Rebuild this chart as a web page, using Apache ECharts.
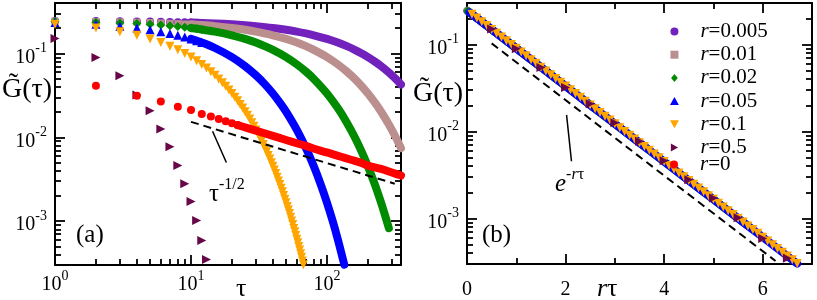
<!DOCTYPE html>
<html><head><meta charset="utf-8">
<script src="https://cdn.jsdelivr.net/npm/echarts@6/dist/echarts.min.js"></script>
<style>html,body{margin:0;padding:0;background:#fff}#c{width:817px;height:300px}</style>
</head><body><div id="c"></div>
<script>
// ---------------- data ----------------
const seriesNames = ['r=0.005','r=0.01','r=0.02','r=0.05','r=0.1','r=0.5','r=0'];
const rValues = [0.005, 0.01, 0.02, 0.05, 0.1, 0.5, 0];

const tauSparse = [1,2,3,4,5,6,7,8,9,10,11,12];
const tauBandLong = [10,12,15,20,25,30,40,50,60,70,80,100,120,140,160,180,200,225,250,285,320,350];
const tauBandGreen = [10,12,15,20,25,30,40,50,60,70,80,100,120,140,160,180,200,225,250,270,285];
const tauBandBlue = [10,12,15,20,25,30,35,40,45,50,60,70,80,90,100,110,120,134];

const gR0005Sparse = [0.2448,0.2436,0.2423,0.2411,0.2399,0.2387,0.2375,0.2364,0.2352,0.2340,0.2328,0.2317];
const gR0005Band = [0.2340,0.2317,0.2282,0.2226,0.2171,0.2117,0.2014,0.1916,0.1822,0.1734,0.1649,0.1492,0.1350,0.1222,0.1105,0.1000,0.0905,0.0799,0.0705,0.0592,0.0497,0.0427];

const gR001Sparse = [0.2436,0.2411,0.2387,0.2364,0.2340,0.2317,0.2294,0.2271,0.2248,0.2226,0.2204,0.2182];
const gR001Band = [0.2226,0.2182,0.2117,0.2014,0.1916,0.1822,0.1649,0.1492,0.1350,0.1222,0.1105,0.0905,0.0741,0.0607,0.0497,0.0407,0.0333,0.0259,0.0202,0.01423,0.01003,0.00743];

const gR002Sparse = [0.2411,0.2364,0.2317,0.2271,0.2226,0.2182,0.2139,0.2096,0.2055,0.2014,0.1974,0.1935];
const gR002Band = [0.2014,0.1935,0.1822,0.1649,0.1492,0.1350,0.1105,0.0905,0.0741,0.0607,0.0497,0.0333,0.0223,0.01495,0.01003,0.00672,0.00450,0.00273,0.00166,0.00111,0.000824];

const gR005Sparse = [0.2340,0.2226,0.2117,0.2014,0.1916,0.1822,0.1734,0.1649,0.1568,0.1492,0.1419,0.1350];
const gR005Band = [0.1492,0.1350,0.1162,0.0905,0.0705,0.0549,0.0428,0.0333,0.0259,0.0202,0.01225,0.00743,0.00451,0.00273,0.00166,0.001006,0.00061,0.000303];

const tauR01 = [1,2,3,4,5,6,7,8,9,10,11,12,13,14,15,16,17,18,19,20,21,22,23,24,25,26,27,28,29,30,31,32,33,34,35,36,37,38,39,40,41,42,43,44,45,46,47,48,49,50,51,52,53,54,55,56,57,58,59,60,61,62,63,64,65,66,67];
const gR01 = [0.2226,0.2014,0.1822,0.1649,0.1492,0.1350,0.1222,0.1105,0.1000,0.0905,
  0.0819,0.0741,0.0670,0.0607,0.0549,0.0497,0.0449,0.0407,0.0368,0.0333,
  0.0301,0.0273,0.0247,0.0223,0.0202,0.0183,0.0165,0.01496,0.01354,0.01225,
  0.01108,0.01003,0.00907,0.00821,0.00743,0.00672,0.00608,0.00550,0.00498,0.00451,
  0.00408,0.00369,0.00334,0.00302,0.00273,0.00247,0.00224,0.00203,0.00183,0.00166,
  0.00150,0.00136,0.00123,0.00111,0.001006,0.00091,0.00082,0.000746,0.000675,0.00061,
  0.000552,0.000500,0.000452,0.000409,0.00037,0.000335,0.000303];

const tauR05 = [1,2,3,4,5,6,7,8,9,10,11,12,13];
const gR05 = [0.151,0.0896,0.0543,0.0320,0.0208,0.0126,0.00774,0.00460,0.00279,0.00172,0.00102,0.000589,0.00035];

const tauR0Sparse = [2,4,6,8,10,12,14,16,18,20,22];
const gR0Sparse = [0.0412,0.0313,0.0268,0.0232,0.0212,0.0190,0.0177,0.0165,0.0155,0.0147,0.0140];
const tauR0Band = [22,26,30,40,50,60,70,85,100,125,150,175,200,250,300,350];
const gR0Band = [0.0140,0.0129,0.0120,0.0104,0.0093,0.0085,0.0079,0.0071,0.0066,0.0059,0.0054,0.0050,0.0046,0.0042,0.0038,0.0035];

// guide lines
const tauGuide = [10, 315];
const gGuide = [0.0153, 0.0028];          // tau^(-1/2)
const rtGuide = [0.5, 6.26];
const gExpGuide = [0.103, 0.000325];      // e^(-r tau)
const arrowA = [[18.2, 0.0050], [14.4, 0.0118]];
const arrowB = [[2.12, 0.00455], [2.02, 0.0155]];

// ticks
const logXMajor = [1, 10, 100];
const logXMinor = [2,3,4,5,6,7,8,9,20,30,40,50,60,70,80,90,200,300];
const logYMajor = [0.001, 0.01, 0.1];
const logYMinor = [0.0003,0.0004,0.0005,0.0006,0.0007,0.0008,0.0009,0.002,0.003,0.004,0.005,0.006,0.007,0.008,0.009,0.02,0.03,0.04,0.05,0.06,0.07,0.08,0.09,0.2,0.3,0.4];
const linXMajor = [0, 2, 4, 6];
const linXMinor = [1, 3, 5, 7];

// ---------------- style ----------------
const FONT = '"Liberation Serif", "Times New Roman", serif';
const colors = ['#7221bc','#bc8f8f','#008b00','#0000ff','#ffa500','#670748','#ff0000'];
const CIRCLE = 'path://M5,0 A5,5 0 1,1 4.99,0 Z';
const SQUARE = 'path://M0,0 L10,0 L10,10 L0,10 Z';
const DIAMOND = 'path://M5,0 L10,6 L5,12 L0,6 Z';
const TRI_UP = 'path://M5,0 L10,9 L0,9 Z';
const TRI_DOWN = 'path://M0,0 L10,0 L5,9 Z';
const TRI_RIGHT = 'path://M0,0 L9,5 L0,10 Z';
const symbols = ['circle', SQUARE, DIAMOND, TRI_UP, TRI_DOWN, TRI_RIGHT, 'circle'];
const legendIcons = [CIRCLE, SQUARE, DIAMOND, TRI_UP, TRI_DOWN, TRI_RIGHT, 'circle'];
const symSizes = [8, 7, 9, 9, 9, 9, 8];

const supRich = {
  b: {fontSize: 20, fontFamily: FONT, color: '#000', lineHeight: 20, padding: [8,0,0,0]},
  s: {fontSize: 14, fontFamily: FONT, color: '#000', lineHeight: 13, padding: [0,0,10,0]}
};
function powLabel(v) { return '{b|10}{s|' + Math.round(Math.log10(v)) + '}'; }

function axisSet(gridIndex, dim, type, min, max, majors, minors, labelValues, labelOpts) {
  const pos = dim === 'x' ? ['bottom','top'] : ['left','right'];
  const out = [];
  pos.forEach(function (p, k) {
    [true, false].forEach(function (isMajor) {
      const ax = {
        type: type, gridIndex: gridIndex, position: p, min: min, max: max,
        splitLine: {show: false}, axisPointer: {show: false},
        axisLine: {show: isMajor, onZero: false, lineStyle: {color: '#000', width: 2}},
        axisTick: {show: true, inside: true, length: isMajor ? 10 : 6,
                   customValues: isMajor ? majors : minors,
                   lineStyle: {color: '#000', width: 1.8}},
        axisLabel: {show: false}
      };
      if (type === 'log') ax.logBase = 10;
      if (isMajor && k === 0 && labelValues) {
        ax.axisLabel = Object.assign({show: true, customValues: labelValues, color: '#000',
          fontFamily: FONT, fontSize: 20}, labelOpts);
      }
      out.push(ax);
    });
  });
  return out;
}

const xAxes = [].concat(
  axisSet(0, 'x', 'log', 1, 350, logXMajor, logXMinor, logXMajor,
          {formatter: powLabel, rich: supRich, margin: 6}),
  axisSet(1, 'x', 'value', 0, 7, linXMajor, linXMinor, linXMajor,
          {margin: 16})
);
const yAxes = [].concat(
  axisSet(0, 'y', 'log', 0.0003, 0.4, logYMajor, logYMinor, logYMajor,
          {formatter: powLabel, rich: supRich, margin: 8}),
  axisSet(1, 'y', 'log', 0.0003, 0.3, logYMajor, logYMinor, logYMajor,
          {formatter: powLabel, rich: supRich, margin: 8})
);

const L = {xAxisIndex: 0, yAxisIndex: 0};
const R = {xAxisIndex: 4, yAxisIndex: 4};
function pts(t, g, scale) { return t.map(function (x, i) { return [x * scale, g[i]]; }); }
function scatter(i, data, axes, z) {
  return Object.assign({type: 'scatter', name: seriesNames[i], data: data, symbol: symbols[i],
    symbolSize: symSizes[i], itemStyle: {color: colors[i], opacity: 1}, silent: true,
    animation: false, z: z}, axes);
}
function band(i, data, axes, z) {
  return Object.assign({type: 'line', name: seriesNames[i], data: data, symbol: 'none',
    showSymbol: false, smooth: 0.3, lineStyle: {color: colors[i], width: 8, cap: 'round', join: 'round'},
    itemStyle: {color: colors[i]}, silent: true, animation: false, z: z}, axes);
}
function guide(data, arrow, axes) {
  return Object.assign({type: 'line', name: 'guide', data: data, symbol: 'none', showSymbol: false,
    lineStyle: {color: '#000', width: 2, type: [8, 5]}, silent: true, animation: false, z: 3.8,
    markLine: {silent: true, animation: false, symbol: ['none', 'arrow'], symbolSize: [0, 10],
      label: {show: false}, lineStyle: {color: '#000', width: 1.5, type: 'solid'},
      data: [[{coord: arrow[0]}, {coord: arrow[1]}]]}}, axes);
}

const sparseG = [gR0005Sparse, gR001Sparse, gR002Sparse, gR005Sparse];
const bandT = [tauBandLong, tauBandLong, tauBandGreen, tauBandBlue];
const bandG = [gR0005Band, gR001Band, gR002Band, gR005Band];

const series = [];
// left panel
for (let i = 0; i < 4; i++) {
  series.push(scatter(i, pts(tauSparse, sparseG[i], 1), L, 2 + i * 0.1));
  series.push(band(i, pts(bandT[i], bandG[i], 1), L, 2 + i * 0.1));
}
series.push(scatter(4, pts(tauR01, gR01, 1), L, 3));
series.push(scatter(5, pts(tauR05, gR05, 1), L, 3.1));
series.push(guide(pts(tauGuide, gGuide, 1), arrowA, L));
series.push(scatter(6, pts(tauR0Sparse, gR0Sparse, 1), L, 3.2));
series.push(band(6, pts(tauR0Band, gR0Band, 1), L, 3.2));
// right panel (x = r * tau)
for (let i = 0; i < 4; i++) {
  const r = rValues[i];
  series.push(band(i, pts([tauSparse[0]].concat(bandT[i]), [sparseG[i][0]].concat(bandG[i]), r), R, 2 + i * 0.1));
}
series.push(scatter(4, pts(tauR01, gR01, rValues[4]), R, 3.5));
series.push(scatter(5, pts(tauR05, gR05, rValues[5]), R, 3.6));
series.push(guide(pts(rtGuide, gExpGuide, 1), arrowB, R));

const legendText = {fontFamily: FONT, fontSize: 21, color: '#000', lineHeight: 20,
  rich: {i: {fontFamily: FONT, fontSize: 21, fontStyle: 'italic', color: '#000', lineHeight: 20}}};
function legendBox(names, top) {
  return {
    orient: 'vertical', left: 670, top: top, itemWidth: 42, itemHeight: 8, itemGap: 2.2,
    selectedMode: false, padding: 0, z: 10,
    data: names.map(function (n) {
      const i = seriesNames.indexOf(n);
      return {name: n, icon: legendIcons[i], itemStyle: {color: colors[i], opacity: 1}};
    }),
    formatter: function (n) { return '{i|r}' + n.slice(1); },
    textStyle: legendText
  };
}

const txt = function (extra) { return Object.assign({fill: '#000', fontFamily: FONT}, extra); };
const option = {
  animation: false,
  backgroundColor: '#fff',
  grid: [
    {left: 55, top: 3, width: 346, height: 262, containLabel: false},
    {left: 467, top: 3, width: 345, height: 261, containLabel: false}
  ],
  xAxis: xAxes,
  yAxis: yAxes,
  legend: [
    legendBox(seriesNames.slice(0, 6), 21),
    legendBox(seriesNames.slice(6), 154)
  ],
  graphic: [
    {type: 'text', left: 2, top: 76, silent: true, style: txt({text: 'G\u0303(\u03c4)', fontSize: 28})},
    {type: 'text', left: 413, top: 80, silent: true, style: txt({text: 'G\u0303(\u03c4)', fontSize: 28})},
    {type: 'text', left: 236, top: 276, silent: true, style: txt({text: '\u03c4', fontSize: 26})},
    {type: 'text', left: 597, top: 276, silent: true, style: txt({text: '{i|r}{n|\u03c4}', rich: {
      i: {fontFamily: FONT, fontSize: 26, fontStyle: 'italic'}, n: {fontFamily: FONT, fontSize: 26}}})},
    {type: 'text', left: 76, top: 223, silent: true, style: txt({text: '(a)', fontSize: 25})},
    {type: 'text', left: 482, top: 223, silent: true, style: txt({text: '(b)', fontSize: 25})},
    {type: 'text', left: 209, top: 174, silent: true, style: txt({text: '{t|\u03c4}{s|-1/2}', rich: {
      t: {fontFamily: FONT, fontSize: 25, lineHeight: 22, padding: [8,0,0,0]},
      s: {fontFamily: FONT, fontSize: 16, lineHeight: 16, padding: [0,0,12,0]}}})},
    {type: 'text', left: 555, top: 164, silent: true, style: txt({text: '{e|e}{s|-}{si|r}{s|\u03c4}', rich: {
      e: {fontFamily: FONT, fontSize: 25, fontStyle: 'italic', lineHeight: 22, padding: [8,0,0,0]},
      s: {fontFamily: FONT, fontSize: 16, lineHeight: 16, padding: [0,0,12,0]},
      si: {fontFamily: FONT, fontSize: 16, fontStyle: 'italic', lineHeight: 16, padding: [0,0,12,0]}}})}
  ],
  series: series
};
const chart = echarts.init(document.getElementById('c'), null, {renderer: 'canvas'});
chart.setOption(option);
</script>
</body></html>
